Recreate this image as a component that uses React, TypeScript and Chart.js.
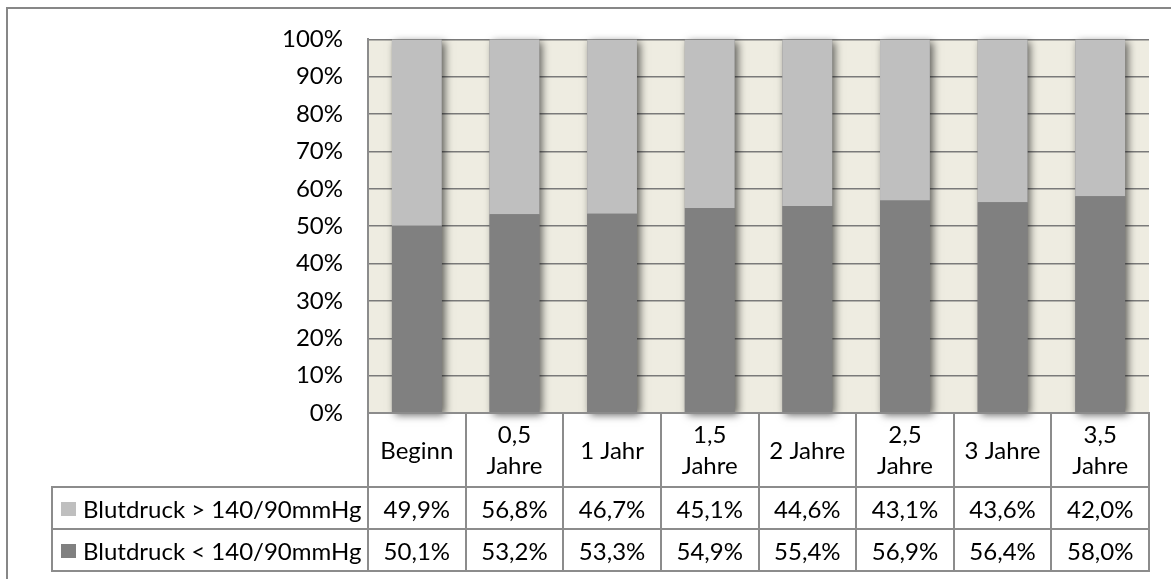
import React, { useEffect, useRef } from "react";
import { Chart, registerables } from "chart.js";

Chart.register(...registerables);

const categories: string[][] = [
  ["Beginn"],
  ["0,5", "Jahre"],
  ["1 Jahr"],
  ["1,5", "Jahre"],
  ["2 Jahre"],
  ["2,5", "Jahre"],
  ["3 Jahre"],
  ["3,5", "Jahre"],
];
const highLabel = "Blutdruck > 140/90mmHg";
const lowLabel = "Blutdruck < 140/90mmHg";
const highValues = [49.9, 56.8, 46.7, 45.1, 44.6, 43.1, 43.6, 42.0];
const lowValues = [50.1, 53.2, 53.3, 54.9, 55.4, 56.9, 56.4, 58.0];
const yTicks = [0, 10, 20, 30, 40, 50, 60, 70, 80, 90, 100];

const LIGHT = "#BFBFBF";
const DARK = "#808080";
const LINE = "#8C8C8C";
const FONT = "Lato";
const FS = 24;
const CAP_HALF = 8.5;

const fmt = (v: number) => v.toFixed(1).replace(".", ",") + "%";

export default function App() {
  const ref = useRef<HTMLCanvasElement>(null);
  useEffect(() => {
    document.body.style.margin = "0";
    const canvas = ref.current!;
    const bgPlugin = {
      id: "bg",
      beforeDraw(chart: any) {
        const { ctx, chartArea } = chart;
        ctx.save();
        ctx.fillStyle = "#FFFFFF";
        ctx.fillRect(0, 0, chart.width, chart.height);
        ctx.fillStyle = "#EEECE1";
        ctx.fillRect(chartArea.left, chartArea.top, chartArea.right - chartArea.left, chartArea.bottom - chartArea.top);
        ctx.restore();
      },
    };
    const shadowPlugin = {
      id: "shadow",
      beforeDatasetsDraw(chart: any) {
        const { ctx, chartArea } = chart;
        const m0 = chart.getDatasetMeta(0).data;
        const m1 = chart.getDatasetMeta(1).data;
        ctx.save();
        ctx.shadowColor = "rgba(0,0,0,0.6)";
        ctx.shadowBlur = 8;
        ctx.shadowOffsetX = 3;
        ctx.shadowOffsetY = 3;
        ctx.fillStyle = DARK;
        for (let i = 0; i < m0.length; i++) {
          const b0: any = m0[i];
          const b1: any = m1[i];
          const top = Math.max(chartArea.top, Math.min(b0.y, b1.y));
          const bottom = b0.base;
          ctx.fillRect(b0.x - b0.width / 2, top, b0.width, bottom - top);
        }
        ctx.restore();
      },
    };
    const tablePlugin = {
      id: "table",
      afterDraw(chart: any) {
        const { ctx, chartArea } = chart;
        const L = chartArea.left;
        const R = chartArea.right;
        const n = categories.length;
        const colW = (R - L) / n;
        const hTop = chartArea.bottom;
        const r1 = 487;
        const r2 = 529;
        const r3 = 571;
        const legLeft = 52;
        ctx.save();
        ctx.strokeStyle = LINE;
        ctx.lineWidth = 2;
        ctx.beginPath();
        ctx.moveTo(L, hTop);
        ctx.lineTo(R, hTop);
        for (const y of [r1, r2, r3]) {
          ctx.moveTo(legLeft - 1, y);
          ctx.lineTo(R + 1, y);
        }
        for (let i = 0; i <= n; i++) {
          const x = Math.round(L + i * colW);
          ctx.moveTo(x, hTop - 1);
          ctx.lineTo(x, r3 + 1);
        }
        ctx.moveTo(legLeft, r1);
        ctx.lineTo(legLeft, r3 + 1);
        ctx.stroke();

        ctx.fillStyle = "#000";
        ctx.font = `${FS}px ${FONT}`;
        ctx.textAlign = "center";
        ctx.textBaseline = "alphabetic";
        const lh = 31.5;
        for (let i = 0; i < n; i++) {
          const cx = chart.scales.x.getPixelForValue(i);
          const lines = categories[i];
          const cy = (hTop + r1) / 2;
          lines.forEach((t, k) => {
            ctx.fillText(t, cx, cy + (k - (lines.length - 1) / 2) * lh + CAP_HALF);
          });
          ctx.fillText(fmt(highValues[i]), cx, (r1 + r2) / 2 + 1.5 + CAP_HALF);
          ctx.fillText(fmt(lowValues[i]), cx, (r2 + r3) / 2 + 1.5 + CAP_HALF);
        }
        ctx.textAlign = "left";
        const rows: [string, string, number][] = [
          [highLabel, LIGHT, (r1 + r2) / 2],
          [lowLabel, DARK, (r2 + r3) / 2],
        ];
        for (const [label, color, cy] of rows) {
          ctx.fillStyle = color;
          ctx.fillRect(61, Math.round(cy - 6), 15, 14);
          ctx.fillStyle = "#000";
          ctx.fillText(label, 83, cy + 1.5 + CAP_HALF);
        }
        ctx.strokeStyle = "#878787";
        ctx.lineWidth = 2;
        ctx.strokeRect(7, 8, 1300, 700);
        ctx.restore();
      },
    };
    const chart = new Chart(canvas, {
      type: "bar",
      data: {
        labels: categories.map((c) => c.join(" ")),
        datasets: [
          { label: lowLabel, data: lowValues, backgroundColor: DARK, barPercentage: 0.51, categoryPercentage: 1 },
          { label: highLabel, data: highValues, backgroundColor: LIGHT, barPercentage: 0.51, categoryPercentage: 1 },
        ],
      },
      options: {
        responsive: false,
        animation: false,
        devicePixelRatio: 1,
        layout: { padding: { left: 0, top: 37, right: 22, bottom: 579 - 413 } },
        plugins: { legend: { display: false }, tooltip: { enabled: false } },
        scales: {
          x: { display: false, stacked: true },
          y: {
            stacked: true,
            min: 0,
            max: 100,
            afterFit(scale: any) {
              scale.width = 368;
            },
            afterBuildTicks(scale: any) {
              scale.ticks = yTicks.map((v) => ({ value: v }));
            },
            ticks: {
              color: "#000",
              font: { family: FONT, size: FS },
              padding: 25,
              callback: (v: any) => v + "%",
            },
            grid: { color: "#7A7A7A", drawTicks: false, lineWidth: 1.5 },
            border: { display: true, color: LINE, width: 2 },
          },
        },
      },
      plugins: [bgPlugin, shadowPlugin, tablePlugin],
    });
    return () => chart.destroy();
  }, []);
  return <canvas ref={ref} width={1171} height={579} style={{ display: "block" }} />;
}
